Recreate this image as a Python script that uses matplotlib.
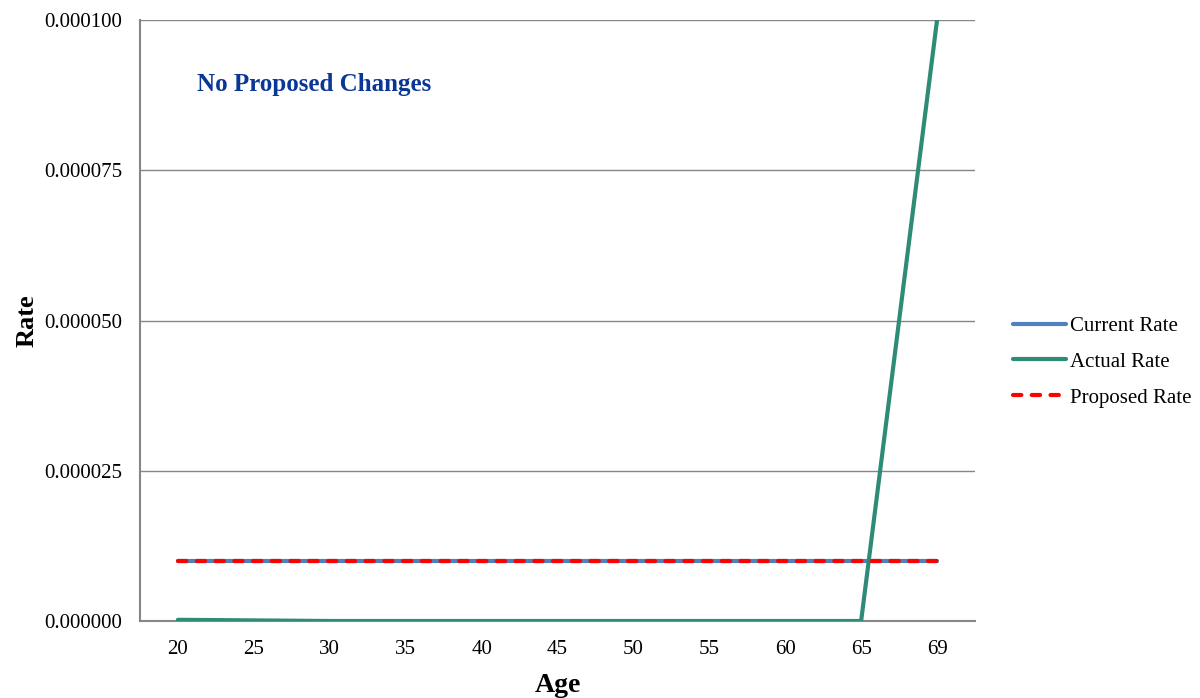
import matplotlib
matplotlib.use("Agg")
import matplotlib.pyplot as plt
from matplotlib.ticker import FormatStrFormatter

plt.rcParams['font.family'] = ['Liberation Serif', 'DejaVu Serif']

ages = ["20", "25", "30", "35", "40", "45", "50", "55", "60", "65", "69"]
current_rate = [0.00001] * 11
actual_rate = [0.0000002, 0.0000001, 0.0, 0.0, 0.0, 0.0, 0.0, 0.0, 0.0, 0.0, 0.0001]
proposed_rate = [0.00001] * 11

GRID = "#868686"

fig = plt.figure(figsize=(12, 6.98), dpi=100)
ax = fig.add_axes([140 / 1200, 1 - 621 / 698, 835 / 1200, 601 / 698])

x = list(range(len(ages)))
ax.plot(x, current_rate, color="#4F81BD", lw=3, label="Current Rate", solid_capstyle="round")
ax.plot(x, actual_rate, color="#2E8B77", lw=3, label="Actual Rate", solid_capstyle="round", zorder=3)
ax.plot(x, proposed_rate, color="#FF0000", lw=3, ls=(0, (2.0, 2.5)), label="Proposed Rate",
        dash_capstyle="round", zorder=4)

ax.set_xlim(-0.5, len(ages) - 0.5)
ax.set_ylim(0, 0.0001)
ax.set_xticks(x)
ax.set_xticklabels(ages)
ax.set_yticks([0, 0.000025, 0.00005, 0.000075, 0.0001])
ax.yaxis.set_major_formatter(FormatStrFormatter("%.6f"))
ax.tick_params(axis="both", length=0, labelsize=15, colors="black")
ax.tick_params(axis="x", pad=14)
ax.tick_params(axis="y", pad=13)

ax.grid(axis="y", color=GRID, lw=1)
ax.set_axisbelow(True)
for side in ("top", "right"):
    ax.spines[side].set_visible(False)
for side in ("left", "bottom"):
    ax.spines[side].set_color(GRID)
    ax.spines[side].set_linewidth(1.5)

ax.set_xlabel("Age", fontsize=20, fontweight="bold", labelpad=10)
ax.set_ylabel("Rate", fontsize=19, fontweight="bold", labelpad=4)

ax.text(197 / 1200, 1 - 85 / 698, "No Proposed Changes", transform=fig.transFigure,
        fontsize=18, fontweight="bold", color="#0A3796", va="center", ha="left")

fig.legend(loc="center left", bbox_to_anchor=(994 / 1200, 1 - 362 / 698), frameon=False,
           fontsize=15, handlelength=2.55, handletextpad=0.2, labelspacing=0.78)

fig.savefig("out.png", dpi=100)
